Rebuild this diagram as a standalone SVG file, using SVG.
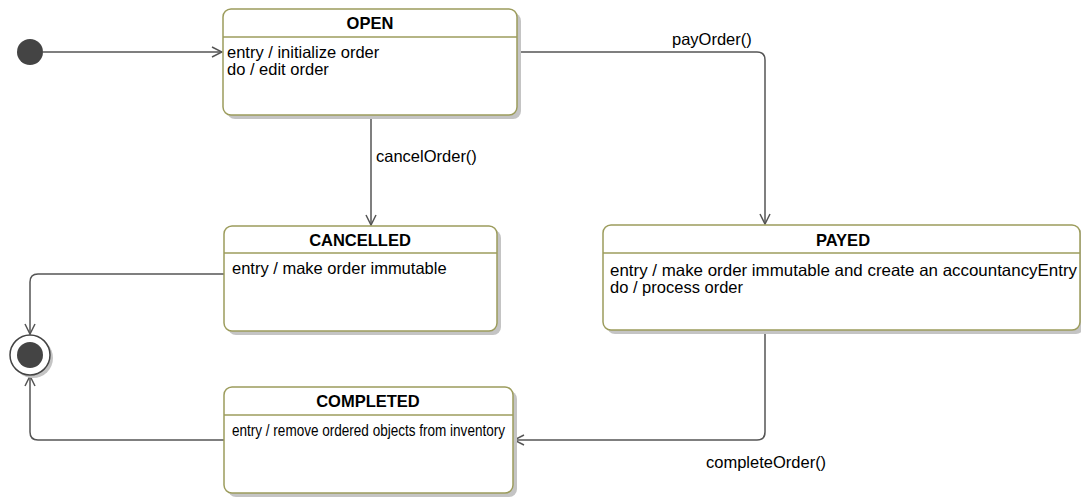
<svg xmlns="http://www.w3.org/2000/svg" width="1081" height="498" viewBox="0 0 1081 498">
<defs>
<style>
.box{fill:#ffffff;stroke:#9c9c5c;stroke-width:1.5}
.shadow{fill:#c4c4c4;stroke:none}
.sep{stroke:#9c9c5c;stroke-width:1.5}
.title{font-family:"Liberation Sans",Arial,sans-serif;font-size:16.5px;font-weight:bold;fill:#000;text-anchor:middle}
.body{font-family:"Liberation Sans",Arial,sans-serif;font-size:16.5px;fill:#000}
.edge{fill:none;stroke:#555555;stroke-width:1.5}
.lbl{font-family:"Liberation Sans",Arial,sans-serif;font-size:16.5px;fill:#000}
</style>
<marker id="arr" viewBox="0 0 12 12" refX="11" refY="6" markerWidth="12" markerHeight="12" markerUnits="userSpaceOnUse" orient="auto">
<path d="M1,1 L11,6 L1,11" fill="none" stroke="#555555" stroke-width="1.5"/>
</marker>
</defs>
<rect width="1081" height="498" fill="#ffffff"/>

<g id="connectors">
<path class="edge" d="M43,52 H222" marker-end="url(#arr)"/>
<path class="edge" d="M517,52 H757 Q765,52 765,60 V224" marker-end="url(#arr)"/>
<path class="edge" d="M371,115 V225" marker-end="url(#arr)"/>
<path class="edge" d="M224,274 H38 Q30,274 30,282 V334" marker-end="url(#arr)"/>
<path class="edge" d="M224,440 H38 Q30,440 30,432 V376" marker-end="url(#arr)"/>
<path class="edge" d="M765,330 V432 Q765,440 757,440 H514" marker-end="url(#arr)"/>
<text class="lbl" x="672" y="45">payOrder()</text>
<text class="lbl" x="376" y="162">cancelOrder()</text>
<text class="lbl" x="706" y="468">completeOrder()</text>
</g>

<g id="initial">
<circle cx="30" cy="52" r="13" fill="#444444"/>
</g>

<g id="final">
<circle cx="33" cy="358" r="20" class="shadow"/>
<circle cx="30" cy="355" r="20" fill="#ffffff" stroke="#444444" stroke-width="1.5"/>
<circle cx="30" cy="355" r="13" fill="#444444"/>
</g>

<g id="open">
<rect class="shadow" x="227" y="13" width="294" height="106" rx="8"/>
<rect class="box" x="223" y="9" width="294" height="106" rx="8"/>
<line class="sep" x1="223" y1="37" x2="517" y2="37"/>
<text class="title" x="370" y="29">OPEN</text>
<text class="body" x="227" y="58">entry / initialize order</text>
<text class="body" x="227" y="75">do / edit order</text>
</g>

<g id="cancelled">
<rect class="shadow" x="228" y="230" width="273" height="105" rx="8"/>
<rect class="box" x="224" y="226" width="273" height="105" rx="8"/>
<line class="sep" x1="224" y1="253" x2="497" y2="253"/>
<text class="title" x="360" y="246">CANCELLED</text>
<text class="body" x="232" y="274">entry / make order immutable</text>
</g>

<g id="payed">
<rect class="shadow" x="607" y="229" width="477" height="105" rx="8"/>
<rect class="box" x="603" y="225" width="477" height="105" rx="8"/>
<line class="sep" x1="603" y1="253" x2="1080" y2="253"/>
<text class="title" x="843" y="246">PAYED</text>
<text class="body" x="610" y="276" textLength="467" lengthAdjust="spacingAndGlyphs">entry / make order immutable and create an accountancyEntry</text>
<text class="body" x="610" y="293">do / process order</text>
</g>

<g id="completed">
<rect class="shadow" x="228" y="391" width="289" height="106" rx="8"/>
<rect class="box" x="224" y="387" width="289" height="106" rx="8"/>
<line class="sep" x1="224" y1="415" x2="513" y2="415"/>
<text class="title" x="368" y="407">COMPLETED</text>
<text class="body" x="232" y="436" textLength="273" lengthAdjust="spacingAndGlyphs">entry / remove ordered objects from inventory</text>
</g>
</svg>
